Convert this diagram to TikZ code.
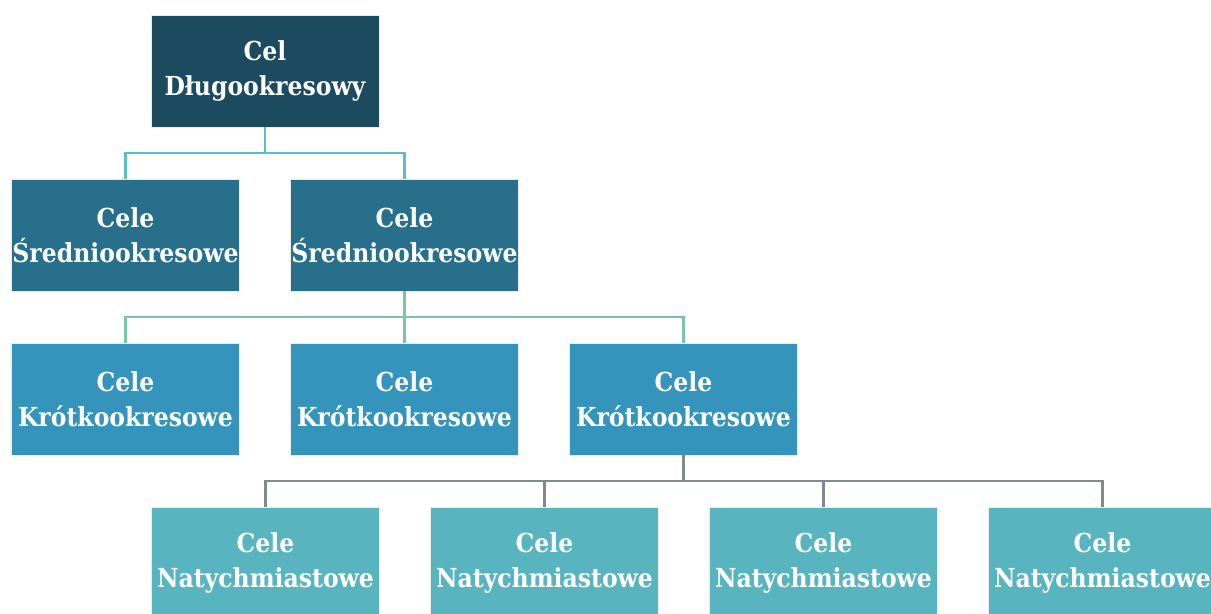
\documentclass[tikz,border=0pt]{standalone}
\usepackage{fontspec}
\setmainfont{DejaVu Serif Condensed}
\usetikzlibrary{positioning}
\definecolor{cDlugo}{HTML}{1C4A5E}
\definecolor{cSrednio}{HTML}{286F8B}
\definecolor{cKrotko}{HTML}{3594BB}
\definecolor{cNatych}{HTML}{58B5BF}
\definecolor{lTeal}{HTML}{5DBCC8}
\definecolor{lGreen}{HTML}{7CC3A7}
\definecolor{lGrey}{HTML}{7F8B8D}
\tikzstyle{gBox} = [rectangle, minimum width=5.7cm, minimum height=2.8cm, inner xsep=0pt, text centered, align=center, text=white, draw=white!85!gray, line width=0.4pt, font=\fontsize{18.6}{25}\selectfont\bfseries]
\tikzstyle{gDlugo} = [gBox, fill=cDlugo]
\tikzstyle{gSrednio} = [gBox, fill=cSrednio]
\tikzstyle{gKrotko} = [gBox, fill=cKrotko]
\tikzstyle{gNatych} = [gBox, fill=cNatych]
\tikzstyle{gLink} = [line width=1.6pt]
\begin{document}
\begin{tikzpicture}[node distance=4.1cm]
    \useasboundingbox (0,0) rectangle (30.275,-15.325);
    \node (dlugo) [gDlugo] at (6.625,-1.775) {Cel\\Długookresowy};
    \node (sr1) [gSrednio, below of=dlugo, xshift=-3.4875cm] {Cele\\Średniookresowe};
    \node (sr2) [gSrednio, below of=dlugo, xshift=3.4875cm] {Cele\\Średniookresowe};
    \node (kr1) [gKrotko, below of=sr1] {Cele\\Krótkookresowe};
    \node (kr2) [gKrotko, below of=sr2] {Cele\\Krótkookresowe};
    \node (kr3) [gKrotko, right of=kr2, node distance=6.975cm] {Cele\\Krótkookresowe};
    \node (nat1) [gNatych, below of=kr1, xshift=3.5cm] {Cele\\Natychmiastowe};
    \node (nat2) [gNatych, right of=nat1, node distance=6.975cm] {Cele\\Natychmiastowe};
    \node (nat3) [gNatych, right of=nat2, node distance=6.975cm] {Cele\\Natychmiastowe};
    \node (nat4) [gNatych, right of=nat3, node distance=6.975cm] {Cele\\Natychmiastowe};

    \draw [gLink, lTeal] (dlugo.south) -- ++(0,-0.65) -| (sr1.north);
    \draw [gLink, lTeal] (dlugo.south) -- ++(0,-0.65) -| (sr2.north);
    \draw [gLink, lGreen] (sr2.south) -- ++(0,-0.65) -| (kr1.north);
    \draw [gLink, lGreen] (sr2.south) -- (kr2.north);
    \draw [gLink, lGreen] (sr2.south) -- ++(0,-0.65) -| (kr3.north);
    \draw [gLink, lGrey] (kr3.south) -- ++(0,-0.65) -| (nat1.north);
    \draw [gLink, lGrey] (kr3.south) -- ++(0,-0.65) -| (nat2.north);
    \draw [gLink, lGrey] (kr3.south) -- ++(0,-0.65) -| (nat3.north);
    \draw [gLink, lGrey] (kr3.south) -- ++(0,-0.65) -| (nat4.north);
\end{tikzpicture}
\end{document}
